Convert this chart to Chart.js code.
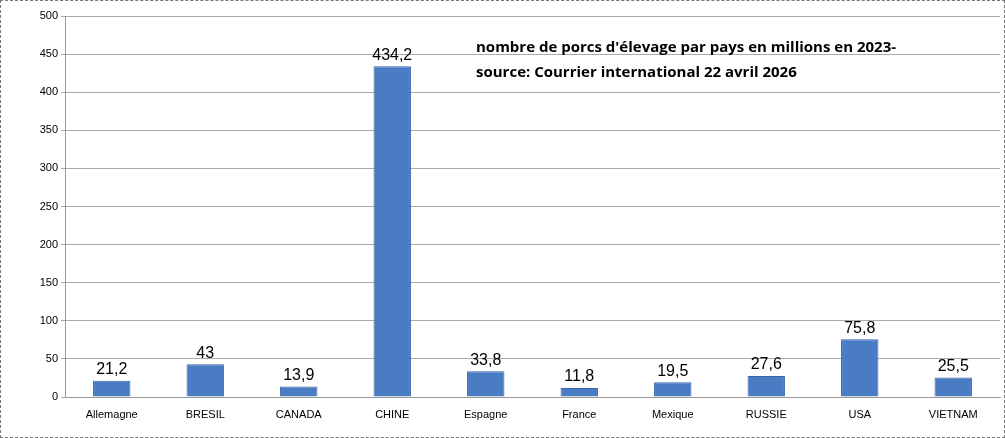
<!DOCTYPE html>
<html><head><meta charset="utf-8">
<script src="https://cdn.jsdelivr.net/npm/chart.js@4/dist/chart.umd.min.js"></script>
<style>html,body{margin:0;padding:0;background:#fff}#w{position:relative;width:1005px;height:438px;box-sizing:border-box;border:1px dashed #777}</style>
</head><body><div id="w"><canvas id="c"></canvas></div>
<script>
const categories=["Allemagne","BRESIL","CANADA","CHINE","Espagne","France","Mexique","RUSSIE","USA","VIETNAM"];
const values=[21.2,43,13.9,434.2,33.8,11.8,19.5,27.6,75.8,25.5];
const labels=["21,2","43","13,9","434,2","33,8","11,8","19,5","27,6","75,8","25,5"];
const titleLines=["nombre de porcs d'élevage par pays en millions en 2023-","source: Courrier international 22 avril 2026"];
const yTicks=[0,50,100,150,200,250,300,350,400,450,500];
const plug={id:'p',afterDatasetsDraw(ch){const c=ch.ctx;const m=ch.getDatasetMeta(0);c.save();c.fillStyle='#000';c.textAlign='center';c.textBaseline='bottom';c.font='16px "Liberation Sans", Arial';m.data.forEach((b,i)=>c.fillText(labels[i],b.x,b.y-3));
c.textAlign='left';c.textBaseline='middle';c.font='bold 15px "Open Sans", "DejaVu Sans"';c.fillText(titleLines[0],475,47);c.fillText(titleLines[1],475,72);c.restore();}};
new Chart(document.getElementById('c'),{type:'bar',data:{labels:categories,datasets:[{data:values,backgroundColor:'#4a7cc4',borderColor:'#3a65a8',borderWidth:1,barPercentage:0.4,categoryPercentage:1}]},
options:{responsive:true,maintainAspectRatio:false,animation:false,layout:{padding:{top:15,right:4,bottom:0,left:0}},
plugins:{legend:{display:false},tooltip:{enabled:false}},
scales:{x:{afterFit:s=>{s.height=40},grid:{display:false},border:{color:'#999'},ticks:{color:'#000',font:{size:11,family:'"Liberation Sans", Arial'},maxRotation:0}},
y:{min:0,max:500,afterFit:s=>{s.width=64},afterBuildTicks:s=>{s.ticks=yTicks.map(v=>({value:v}))},grid:{color:'#aaa',borderDash:[2,2],drawTicks:true,tickLength:4},border:{color:'#999'},ticks:{color:'#000',font:{size:11,family:'"Liberation Sans", Arial'}}}}},plugins:[plug]});
</script></body></html>
